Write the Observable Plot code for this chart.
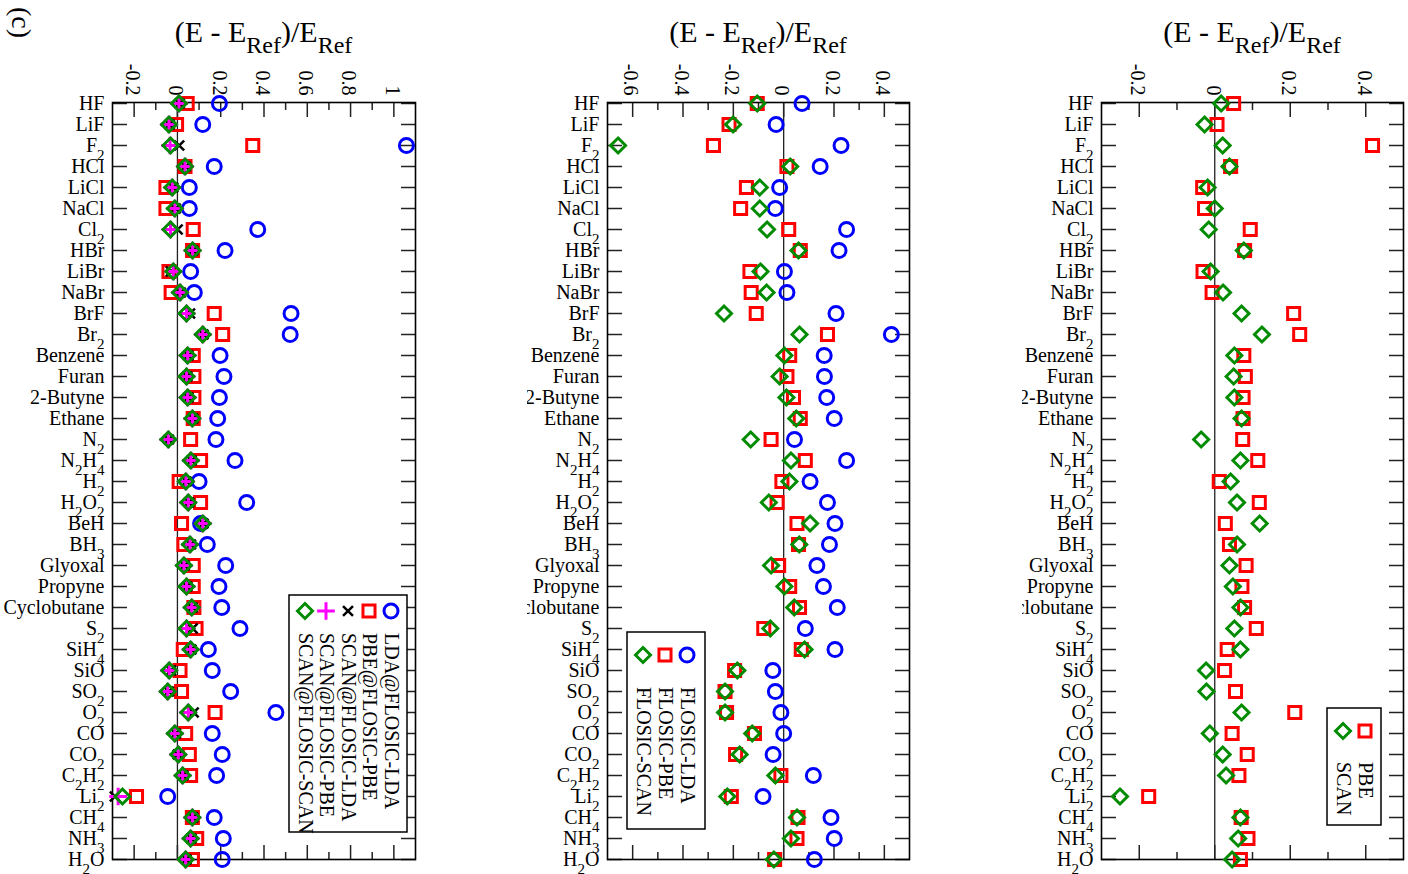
<!DOCTYPE html>
<html>
<head>
<meta charset="utf-8">
<script src="https://cdn.jsdelivr.net/npm/d3@7"></script>
<script src="https://cdn.jsdelivr.net/npm/@observablehq/plot@0.6"></script>
<style>
  body { margin: 0; background: #fff; }
  #chart { position: relative; width: 1408px; height: 874px; overflow: hidden; background: #fff;
           font-family: "Liberation Serif", "Times New Roman", serif; }
  .panel { position: absolute; top: 0; height: 874px; overflow: hidden; }
  #overlay { position: absolute; left: 0; top: 0; pointer-events: none; }
</style>
</head>
<body>
<div id="chart"></div>
<script>
// Molecules, top to bottom
const molecules = ["HF","LiF","F2","HCl","LiCl","NaCl","Cl2","HBr","LiBr","NaBr","BrF","Br2",
  "Benzene","Furan","2-Butyne","Ethane","N2","N2H4","H2","H2O2","BeH","BH3","Glyoxal","Propyne",
  "Cyclobutane","S2","SiH4","SiO","SO2","O2","CO","CO2","C2H2","Li2","CH4","NH3","H2O"];

// Panel 1: energies evaluated on FLOSIC densities
const ldaAtFlosicLda = [0.194, 0.117, 1.058, 0.170, 0.055, 0.055, 0.371, 0.220, 0.061, 0.078, 0.525, 0.521,
  0.197, 0.215, 0.194, 0.186, 0.178, 0.266, 0.100, 0.320, 0.107, 0.138, 0.223, 0.192,
  0.205, 0.289, 0.143, 0.161, 0.246, 0.455, 0.161, 0.207, 0.181, -0.045, 0.170, 0.212, 0.207];
const pbeAtFlosicPbe = [0.045, -0.004, 0.348, 0.035, -0.053, -0.053, 0.073, 0.070, -0.039, -0.029, 0.170, 0.209,
  0.073, 0.076, 0.076, 0.073, 0.061, 0.107, 0.008, 0.107, 0.019, 0.030, 0.073, 0.073,
  0.076, 0.086, 0.027, 0.012, 0.019, 0.174, 0.038, 0.055, 0.061, -0.189, 0.069, 0.089, 0.069];
const scanAtFlosicLda = [0.010, -0.036, 0.008, 0.038, -0.020, -0.008, 0.001, 0.072, -0.030, 0.015, 0.058, 0.120,
  0.050, 0.045, 0.050, 0.072, -0.040, 0.065, 0.042, 0.053, 0.120, 0.062, 0.033, 0.045,
  0.070, 0.070, 0.064, -0.030, -0.040, 0.075, -0.008, 0.002, 0.027, -0.289, 0.072, 0.064, 0.041];
const scanAtFlosicPbe = [0.007, -0.039, -0.034, 0.035, -0.024, -0.012, -0.032, 0.070, -0.019, 0.012, 0.042, 0.117,
  0.047, 0.042, 0.047, 0.069, -0.042, 0.062, 0.039, 0.050, 0.117, 0.058, 0.030, 0.042,
  0.066, 0.042, 0.061, -0.038, -0.045, 0.050, -0.012, 0.004, 0.024, -0.274, 0.069, 0.061, 0.038];
const scanAtFlosicScan = [0.007, -0.039, -0.032, 0.035, -0.024, -0.012, -0.032, 0.070, -0.019, 0.012, 0.042, 0.117,
  0.047, 0.042, 0.047, 0.069, -0.042, 0.062, 0.039, 0.050, 0.117, 0.058, 0.030, 0.042,
  0.066, 0.042, 0.061, -0.038, -0.045, 0.050, -0.012, 0.004, 0.024, -0.254, 0.069, 0.061, 0.038];

// Panel 2: self-consistent FLOSIC
const flosicLda = [0.073, -0.030, 0.228, 0.145, -0.016, -0.033, 0.250, 0.220, 0.003, 0.013, 0.208, 0.428,
  0.161, 0.162, 0.171, 0.201, 0.043, 0.250, 0.105, 0.174, 0.204, 0.182, 0.132, 0.158,
  0.213, 0.086, 0.204, -0.043, -0.033, -0.011, 0.000, -0.042, 0.118, -0.082, 0.188, 0.201, 0.122];
const flosicPbe = [-0.105, -0.217, -0.279, 0.013, -0.148, -0.171, 0.020, 0.066, -0.134, -0.129, -0.109, 0.174,
  0.024, 0.013, 0.039, 0.066, -0.050, 0.086, -0.007, -0.026, 0.053, 0.059, -0.020, 0.024,
  0.063, -0.079, 0.070, -0.195, -0.233, -0.227, -0.116, -0.191, -0.011, -0.208, 0.057, 0.053, -0.036];
const flosicScan = [-0.105, -0.201, -0.658, 0.026, -0.095, -0.095, -0.066, 0.059, -0.092, -0.068, -0.237, 0.063,
  0.003, -0.016, 0.011, 0.050, -0.131, 0.029, 0.023, -0.059, 0.105, 0.062, -0.050, 0.003,
  0.042, -0.053, 0.083, -0.184, -0.233, -0.233, -0.125, -0.175, -0.033, -0.224, 0.053, 0.029, -0.039];

// Panel 3: uncorrected functionals
const pbe = [0.050, 0.006, 0.418, 0.042, -0.032, -0.027, 0.094, 0.079, -0.031, -0.007, 0.209, 0.225,
  0.077, 0.081, 0.075, 0.075, 0.074, 0.114, 0.012, 0.118, 0.028, 0.039, 0.083, 0.072,
  0.079, 0.110, 0.033, 0.026, 0.055, 0.212, 0.046, 0.086, 0.064, -0.175, 0.070, 0.088, 0.068];
const scan = [0.017, -0.027, 0.021, 0.039, -0.019, 0.000, -0.016, 0.077, -0.011, 0.022, 0.071, 0.125,
  0.052, 0.050, 0.052, 0.071, -0.036, 0.068, 0.042, 0.059, 0.119, 0.059, 0.039, 0.048,
  0.068, 0.052, 0.068, -0.023, -0.022, 0.071, -0.013, 0.021, 0.030, -0.251, 0.068, 0.062, 0.046];

// Axis ticks
const ticks1 = [-0.2, 0, 0.2, 0.4, 0.6, 0.8, 1];
const minor1 = [-0.1, 0.1, 0.3, 0.5, 0.7, 0.9];
const ticks2 = [-0.6, -0.4, -0.2, 0, 0.2, 0.4];
const minor2 = [-0.5, -0.3, -0.1, 0.1, 0.3];
const ticks3 = [-0.2, 0, 0.2, 0.4];
const minor3 = [-0.1, 0.1, 0.3];

const serif = "'Liberation Serif', 'Times New Roman', serif";
const marker = {
  circle:  {symbol: "circle",   type: d3.symbolCircle,   r: 7,    stroke: "#0000ff", strokeWidth: 3},
  square:  {symbol: "square",   type: d3.symbolSquare,   r: 6.8,  stroke: "#ff0000", strokeWidth: 3},
  times:   {symbol: "times",    type: d3.symbolTimes,    r: 4.6,  stroke: "#000000", strokeWidth: 2.5},
  plus:    {symbol: "plus",     type: d3.symbolPlus,     r: 5.75, stroke: "#ff00ff", strokeWidth: 3},
  diamond: {symbol: "diamond2", type: d3.symbolDiamond2, r: 6.75, stroke: "#008b00", strokeWidth: 3}
};
const fmt = d => String(+d.toFixed(1));

function dots(values, key) {
  const m = marker[key];
  return Plot.dot(molecules, {x: (d, i) => values[i], y: d => d, symbol: m.symbol, r: m.r,
    stroke: m.stroke, strokeWidth: m.strokeWidth, fill: "none"});
}

// Chemical formulas: digits that follow a letter are set as subscripts
function subscriptLabels(svg) {
  d3.select(svg).selectAll('g[aria-label="y-axis tick label"] text').each(function () {
    const s = this.textContent;
    if (!s) return;
    const parts = s.split(/(?<=[A-Za-z])(\d+)/);
    const el = d3.select(this);
    el.text(null);
    let low = false;
    parts.forEach((p, k) => {
      if (!p) return;
      const sub = k % 2 === 1;
      const t = el.append("tspan").text(p);
      if (sub) {
        t.attr("font-size", 15);
        if (!low) { t.attr("dy", 8); low = true; }
      } else if (low) {
        t.attr("dy", -8); low = false;
      }
    });
  });
}

function drawLegend(svg, box, symY, textY, items) {
  const g = d3.select(svg).append("g").attr("text-anchor", "start");
  g.append("rect").attr("x", box[0]).attr("y", box[1]).attr("width", box[2]).attr("height", box[3])
    .attr("fill", "white").attr("stroke", "black").attr("stroke-width", 1.5);
  for (const it of items) {
    const m = marker[it.key];
    g.append("path").attr("transform", `translate(${it.x},${symY})`)
      .attr("d", d3.symbol(m.type, Math.PI * m.r * m.r)())
      .attr("fill", "none").attr("stroke", m.stroke).attr("stroke-width", m.strokeWidth);
    g.append("text").attr("transform", `translate(${it.x},${textY}) rotate(90)`)
      .attr("text-anchor", "start").attr("dy", "0.32em").attr("font-size", 20)
      .attr("fill", "black").text(it.label);
  }
}

function panel({left, width, marginLeft, marginRight, domain, major, minor, series}) {
  const tickStyle = {stroke: "#222", strokeWidth: 1.5, tickFormat: () => "", label: null};
  const plot = Plot.plot({
    width, height: 874,
    marginLeft, marginRight, marginTop: 102, marginBottom: 15,
    style: {background: "transparent", fontFamily: serif, fontSize: "20px", overflow: "visible"},
    x: {domain, label: null},
    y: {type: "point", domain: molecules, padding: 0, label: null},
    marks: [
      Plot.ruleX([0], {stroke: "#222", strokeWidth: 1.3}),
      Plot.axisX({anchor: "top", ticks: major, tickSize: -14, ...tickStyle}),
      Plot.axisX({anchor: "top", ticks: minor, tickSize: -7, ...tickStyle}),
      Plot.axisX({anchor: "bottom", ticks: major, tickSize: -14, ...tickStyle}),
      Plot.axisX({anchor: "bottom", ticks: minor, tickSize: -7, ...tickStyle}),
      Plot.axisY({anchor: "left", tickSize: -15, ...tickStyle}),
      Plot.axisY({anchor: "right", tickSize: -15, ...tickStyle}),
      Plot.axisY({anchor: "left", tickSize: 0, tickPadding: 8, fontSize: 20, label: null}),
      Plot.text(major, {x: d => d, frameAnchor: "top", dx: 6, dy: -7, rotate: 90, textAnchor: "end",
        text: fmt, fontSize: 20, fill: "black"}),
      Plot.frame({stroke: "black", strokeWidth: 1.6}),
      ...series.map(([values, key]) => dots(values, key))
    ]
  });
  subscriptLabels(plot);
  const div = document.createElement("div");
  div.className = "panel";
  div.style.left = left + "px";
  div.style.width = width + "px";
  div.appendChild(plot);
  document.getElementById("chart").appendChild(div);
  return plot;
}

const p1 = panel({left: 0, width: 527, marginLeft: 112, marginRight: 112, domain: [-0.3, 1.1],
  major: ticks1, minor: minor1,
  series: [[ldaAtFlosicLda, "circle"], [pbeAtFlosicPbe, "square"], [scanAtFlosicLda, "times"],
           [scanAtFlosicPbe, "plus"], [scanAtFlosicScan, "diamond"]]});
drawLegend(p1, [289, 595, 118, 237], 611, 633, [
  {key: "diamond", x: 305, label: "SCAN@FLOSIC-SCAN"},
  {key: "plus", x: 326, label: "SCAN@FLOSIC-PBE"},
  {key: "times", x: 348, label: "SCAN@FLOSIC-LDA"},
  {key: "square", x: 369, label: "PBE@FLOSIC-PBE"},
  {key: "circle", x: 391, label: "LDA@FLOSIC-LDA"}]);

const p2 = panel({left: 527, width: 495, marginLeft: 80, marginRight: 113, domain: [-0.7, 0.5],
  major: ticks2, minor: minor2,
  series: [[flosicLda, "circle"], [flosicPbe, "square"], [flosicScan, "diamond"]]});
drawLegend(p2, [100, 632, 78, 197], 655, 687, [
  {key: "diamond", x: 116, label: "FLOSIC-SCAN"},
  {key: "square", x: 138, label: "FLOSIC-PBE"},
  {key: "circle", x: 160, label: "FLOSIC-LDA"}]);

const p3 = panel({left: 1022, width: 386, marginLeft: 79, marginRight: 5, domain: [-0.3, 0.5],
  major: ticks3, minor: minor3,
  series: [[pbe, "square"], [scan, "diamond"]]});
drawLegend(p3, [305, 708, 54, 117], 731, 762, [
  {key: "diamond", x: 321, label: "SCAN"},
  {key: "square", x: 343, label: "PBE"}]);

// Titles and panel tag
const overlay = d3.select("#chart").append("svg").attr("id", "overlay")
  .attr("width", 1408).attr("height", 874).attr("font-family", serif);
overlay.append("text").attr("transform", "translate(21,7) rotate(90)").attr("dy", "0.32em")
  .attr("font-size", 28).text("(c)");
for (const cx of [263.5, 758, 1252]) {
  const t = overlay.append("text").attr("x", cx).attr("y", 42).attr("text-anchor", "middle").attr("font-size", 30);
  t.append("tspan").text("(E - E");
  t.append("tspan").attr("dy", 11).attr("font-size", 24).text("Ref");
  t.append("tspan").attr("dy", -11).text(")/E");
  t.append("tspan").attr("dy", 11).attr("font-size", 24).text("Ref");
}
</script>
</body>
</html>
